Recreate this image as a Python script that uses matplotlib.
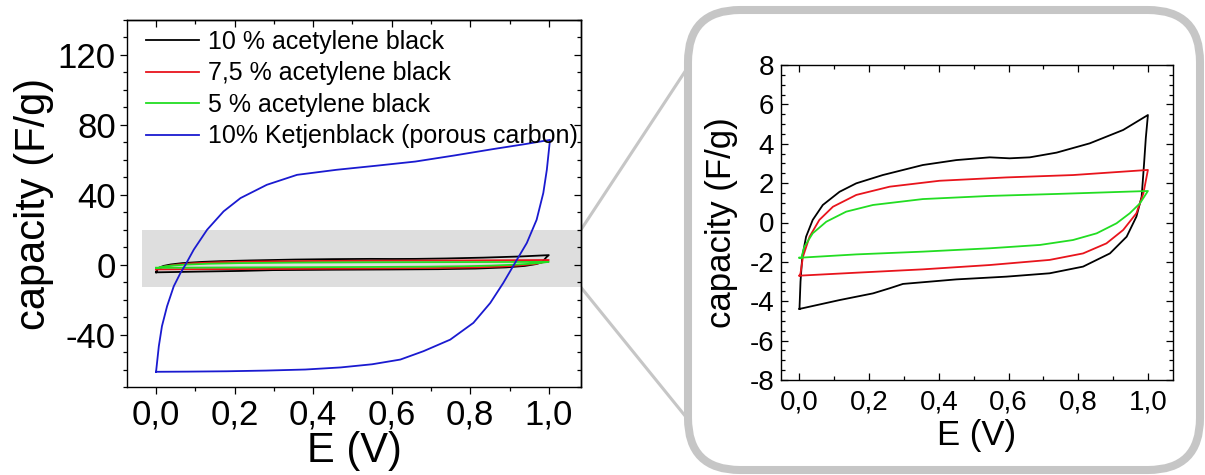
import matplotlib
matplotlib.use("Agg")
import matplotlib.pyplot as plt
from matplotlib.patches import FancyBboxPatch, Rectangle, ConnectionPatch
from matplotlib.ticker import MultipleLocator, FuncFormatter

plt.rcParams["font.family"] = ["Liberation Sans", "DejaVu Sans"]

# ── data: cyclic voltammograms (E in V, capacity in F/g) ──
# 10 % acetylene black
ab10_e_fwd   = [0.000, 0.003, 0.008, 0.019, 0.038, 0.067, 0.115, 0.163, 0.239, 0.354,
                0.450, 0.546, 0.603, 0.661, 0.738, 0.833, 0.929, 1.000]
ab10_cap_fwd = [-4.39, -3.00, -1.74, -0.72, 0.13, 0.89, 1.56, 1.99, 2.41, 2.92,
                3.17, 3.31, 3.26, 3.31, 3.55, 4.02, 4.70, 5.46]
ab10_e_rev   = [1.000, 0.994, 0.989, 0.982, 0.967, 0.939, 0.891, 0.814, 0.718, 0.594,
                0.450, 0.297, 0.259, 0.211, 0.115, 0.000]
ab10_cap_rev = [5.46, 4.30, 3.00, 1.31, 0.30, -0.72, -1.57, -2.24, -2.58, -2.75,
                -2.89, -3.12, -3.34, -3.60, -3.94, -4.39]

# 7,5 % acetylene black
ab75_e_fwd   = [0.000, 0.003, 0.010, 0.029, 0.057, 0.096, 0.163, 0.259, 0.402, 0.594,
                0.785, 1.000]
ab75_cap_fwd = [-2.70, -2.58, -1.74, -0.72, 0.13, 0.80, 1.40, 1.82, 2.12, 2.29,
                2.41, 2.67]
ab75_e_rev   = [1.000, 0.987, 0.967, 0.929, 0.881, 0.814, 0.718, 0.546, 0.354, 0.163,
                0.000]
ab75_cap_rev = [2.67, 1.48, 0.47, -0.38, -1.06, -1.57, -1.90, -2.16, -2.38, -2.55,
                -2.70]

# 5 % acetylene black
ab5_e_fwd   = [0.000, 0.005, 0.014, 0.038, 0.077, 0.134, 0.211, 0.354, 0.546, 0.738,
               1.000]
ab5_cap_fwd = [-1.79, -1.82, -1.23, -0.55, 0.04, 0.55, 0.89, 1.19, 1.35, 1.45,
               1.60]
ab5_e_rev   = [1.000, 0.977, 0.948, 0.910, 0.853, 0.785, 0.690, 0.546, 0.354, 0.163,
               0.000]
ab5_cap_rev = [1.60, 0.97, 0.47, -0.04, -0.55, -0.89, -1.14, -1.31, -1.48, -1.62,
               -1.79]

# 10 % Ketjenblack (porous carbon)
kb_e_fwd   = [0.000, 0.007, 0.015, 0.028, 0.045, 0.062, 0.075, 0.096, 0.130, 0.172,
              0.215, 0.282, 0.359, 0.460, 0.560, 0.660, 0.760, 0.860, 0.940, 1.003]
kb_cap_fwd = [-61.3, -46.7, -35.2, -23.8, -12.4, -4.8, 0.0, 8.6, 20.0, 30.5,
              38.1, 45.7, 51.4, 54.3, 56.6, 59.0, 62.5, 66.2, 69.0, 71.4]
kb_e_rev   = [1.003, 0.995, 0.986, 0.969, 0.944, 0.914, 0.884, 0.851, 0.808, 0.749,
              0.681, 0.622, 0.550, 0.470, 0.380, 0.280, 0.180, 0.080, 0.000]
kb_cap_rev = [71.4, 54.3, 41.0, 25.7, 12.4, 1.0, -10.5, -21.9, -33.3, -42.9,
              -49.5, -54.3, -57.0, -58.8, -60.0, -60.6, -61.0, -61.2, -61.3]

labels = ["10 % acetylene black", "7,5 % acetylene black",
          "5 % acetylene black", "10% Ketjenblack (porous carbon)"]
colors = ["#000000", "#e8141c", "#22dd22", "#1a1ad0"]

series = [
    (ab10_e_fwd + ab10_e_rev, ab10_cap_fwd + ab10_cap_rev),
    (ab75_e_fwd + ab75_e_rev, ab75_cap_fwd + ab75_cap_rev),
    (ab5_e_fwd + ab5_e_rev, ab5_cap_fwd + ab5_cap_rev),
    (kb_e_fwd + kb_e_rev, kb_cap_fwd + kb_cap_rev),
]

comma = FuncFormatter(lambda v, _: f"{v:.1f}".replace(".", ","))
intfmt = FuncFormatter(lambda v, _: f"{v:.0f}")

fig = plt.figure(figsize=(12.05, 4.75), dpi=100)
W, H = 1205, 475

# ── left panel ───────────────────────────────────────────────────────────────
ax1 = fig.add_axes([127 / W, (H - 387) / H, (581 - 127) / W, (387 - 20) / H])
ax1.set_xlim(-0.074, 1.082)
ax1.set_ylim(-70, 140)
ax1.add_patch(Rectangle((-0.036, -13), 1.082 + 0.036, 33,
                        fc="#dedede", ec="none", zorder=0))
for (e, c), lab, col in zip(series, labels, colors):
    ax1.plot(e, c, color=col, lw=1.3, label=lab)

ax1.xaxis.set_major_locator(MultipleLocator(0.2))
ax1.xaxis.set_minor_locator(MultipleLocator(0.1))
ax1.yaxis.set_major_locator(MultipleLocator(40))
ax1.yaxis.set_minor_locator(MultipleLocator(10))
ax1.xaxis.set_major_formatter(comma)
ax1.yaxis.set_major_formatter(intfmt)
ax1.tick_params(which="both", direction="out", top=False, right=False,
                labelsize=25, width=0.9)
ax1.tick_params(which="major", length=5, pad=3)
ax1.tick_params(which="minor", length=3)
for tw, loc, maj, mnr in (("x", "top", 0.2, 0.1), ("y", "right", 40, 10)):
    sec = ax1.secondary_xaxis(loc) if tw == "x" else ax1.secondary_yaxis(loc)
    axis = sec.xaxis if tw == "x" else sec.yaxis
    axis.set_major_locator(MultipleLocator(maj))
    axis.set_minor_locator(MultipleLocator(mnr))
    sec.tick_params(which="both", direction="in", width=0.9,
                    labeltop=False, labelright=False)
    sec.tick_params(which="major", length=5)
    sec.tick_params(which="minor", length=3)
    for s in sec.spines.values():
        s.set_linewidth(1.0)
for s in ax1.spines.values():
    s.set_linewidth(1.0)
ax1.set_xlabel("E (V)", fontsize=30, labelpad=0)
ax1.set_ylabel("capacity (F/g)", fontsize=30, labelpad=3)
ax1.legend(loc="upper left", frameon=False, fontsize=18, handlelength=2.15,
           handletextpad=0.33, labelspacing=0.3, borderaxespad=0.2,
           bbox_to_anchor=(0.008, 1.014))

# ── rounded zoom frame ───────────────────────────────────────────────────────
box = FancyBboxPatch((6.88, 0.05), 12.00 - 6.88, 4.60,
                     boxstyle="round,pad=0,rounding_size=0.52",
                     transform=fig.dpi_scale_trans, fc="white", ec="#c6c6c6",
                     lw=5.8, zorder=0)
fig.add_artist(box)

for y_data, y_pix in ((20, H - 70), (-13, H - 417)):
    con = ConnectionPatch(xyA=(1.082, y_data), coordsA="data", axesA=ax1,
                          xyB=(686, y_pix), coordsB="figure pixels",
                          color="#c6c6c6", lw=2.2, zorder=0)
    fig.add_artist(con)

# ── right panel (zoom on acetylene black curves) ─────────────────────────────
ax2 = fig.add_axes([781 / W, (H - 380) / H, (1173 - 781) / W, (380 - 65) / H])
ax2.set_xlim(-0.053, 1.072)
ax2.set_ylim(-8, 8)
for (e, c), col in zip(series[:3], colors[:3]):
    ax2.plot(e, c, color=col, lw=1.3)
ax2.xaxis.set_major_locator(MultipleLocator(0.2))
ax2.xaxis.set_minor_locator(MultipleLocator(0.1))
ax2.yaxis.set_major_locator(MultipleLocator(2))
ax2.yaxis.set_minor_locator(MultipleLocator(0.5))
ax2.xaxis.set_major_formatter(comma)
ax2.yaxis.set_major_formatter(intfmt)
ax2.tick_params(which="both", direction="in", top=True, right=True,
                labelsize=20, width=0.9)
ax2.tick_params(which="major", length=5)
ax2.tick_params(which="minor", length=3)
ax2.tick_params(axis="x", pad=7)
ax2.tick_params(axis="y", pad=5)
for s in ax2.spines.values():
    s.set_linewidth(1.0)
ax2.set_xlabel("E (V)", fontsize=25, labelpad=2)
ax2.set_ylabel("capacity (F/g)", fontsize=25, labelpad=8)

fig.savefig("out.png", dpi=100)
